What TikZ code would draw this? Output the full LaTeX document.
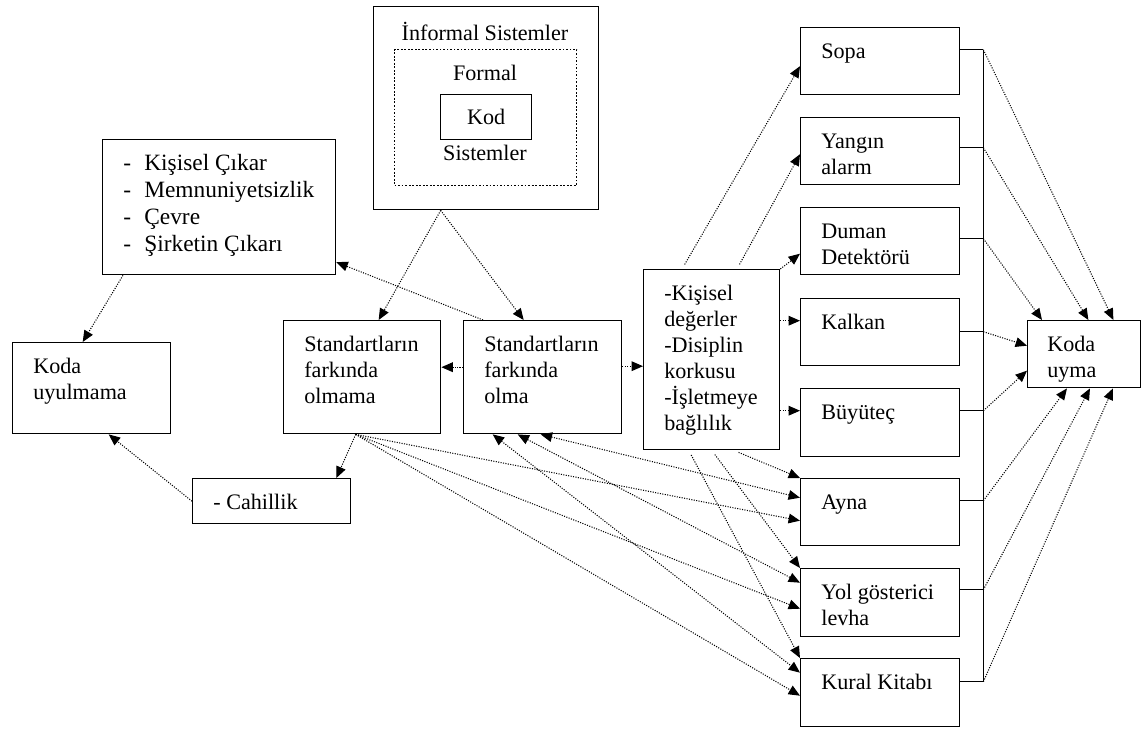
\documentclass[tikz,border=0pt]{standalone}
\usepackage{fontspec}
\setmainfont{Liberation Serif}
\usetikzlibrary{arrows.meta}
\begin{document}
\begin{tikzpicture}[x=0.02cm, y=-0.02cm,
  font=\fontsize{12.6}{14.8}\selectfont,
  kutu/.style 2 args={draw, line width=0.8pt, anchor=north west, inner sep=0pt,
    minimum width=#1cm, minimum height=#2cm},
  yazi/.style={anchor=north west, align=left, inner sep=0pt, xshift=0.42cm, yshift=-0.26cm},
  ok/.style={line width=0.6pt, dash pattern=on 0.6pt off 0.8pt,
    -{Triangle[length=6.5pt,width=5.5pt]}},
  iki/.style={ok, {Triangle[length=6.5pt,width=5.5pt]}-{Triangle[length=6.5pt,width=5.5pt]}},
  hat/.style={line width=0.8pt}]
\useasboundingbox (0,0) rectangle (1144,730);

% sistemler
\node[kutu={4.50}{4.06}] (bilgi) at (373,6) {};
\node (bilgi-t) at (485,31) {İnformal Sistemler};
\node[kutu={3.64}{2.72}, dash pattern=on 1pt off 1pt] (formal) at (394,49) {};
\node (formal-t) at (485,73) {Formal};
\node[kutu={1.82}{0.90}] (kod) at (440,94) {Kod};
\node (sistem-t) at (485,153) {Sistemler};

% sol taraf
\node[kutu={4.66}{2.70}, label={[yazi, font=\fontsize{13.3}{15.4}\selectfont, yshift=0.02cm]north west:\strut\makebox[0.42cm][l]{-}Kişisel Çıkar\\
  \makebox[0.42cm][l]{-}Memnuniyetsizlik\\\makebox[0.42cm][l]{-}Çevre\\
  \makebox[0.42cm][l]{-}Şirketin Çıkarı}] (nedenler) at (102,139) {};
\node[kutu={3.16}{1.82}, label={[yazi]north west:\strut Koda\\uyulmama}] (uyulmama) at (12,342) {};
\node[kutu={3.14}{2.26}, label={[yazi]north west:\strut Standartların\\farkında\\olmama}] (olmama) at (283,320) {};
\node[kutu={3.16}{2.26}, label={[yazi]north west:\strut Standartların\\farkında\\olma}] (olma) at (463,320) {};
\node[kutu={3.16}{0.90}, label={[yazi]north west:\strut - Cahillik}] (cahil) at (192,478) {};
\node[kutu={2.72}{3.60}, label={[yazi]north west:\strut -Kişisel\\değerler\\-Disiplin\\korkusu\\-İşletmeye\\bağlılık}] (etken) at (643,269) {};

% sag sutun
\node[kutu={3.18}{1.34}, label={[yazi]north west:\strut Sopa}] (sopa) at (800,27) {};
\node[kutu={3.18}{1.34}, label={[yazi]north west:\strut Yangın\\alarm}] (yangin) at (800,117) {};
\node[kutu={3.18}{1.34}, label={[yazi]north west:\strut Duman\\Detektörü}] (duman) at (800,207) {};
\node[kutu={3.18}{1.34}, label={[yazi]north west:\strut Kalkan}] (kalkan) at (800,298) {};
\node[kutu={3.18}{1.36}, label={[yazi]north west:\strut Büyüteç}] (buyutec) at (800,388) {};
\node[kutu={3.18}{1.34}, label={[yazi]north west:\strut Ayna}] (ayna) at (800,478) {};
\node[kutu={3.18}{1.36}, label={[yazi]north west:\strut Yol gösterici\\levha}] (yol) at (800,568) {};
\node[kutu={3.18}{1.36}, label={[yazi]north west:\strut Kural Kitabı}] (kural) at (800,658) {};
\node[kutu={2.26}{1.34}, label={[yazi, xshift=-0.02cm]north west:\strut Koda\\uyma}] (uyma) at (1027,320) {};

% baglanti cizgisi
\draw[hat] ([yshift=0.23cm]sopa.east) -- ++(23,0) coordinate (sopa-b);
\draw[hat] ([yshift=0.07cm]yangin.east) -- ++(23,0) coordinate (yangin-b);
\draw[hat] ([yshift=0.05cm]duman.east) -- ++(23,0) coordinate (duman-b);
\draw[hat] ([yshift=0.01cm]kalkan.east) -- ++(23,0) coordinate (kalkan-b);
\draw[hat] ([yshift=0.24cm]buyutec.east) -- ++(23,0) coordinate (buyutec-b);
\draw[hat] ([yshift=0.23cm]ayna.east) -- ++(23,0) coordinate (ayna-b);
\draw[hat] ([yshift=0.26cm]yol.east) -- ++(23,0) coordinate (yol-b);
\draw[hat] ([yshift=0.22cm]kural.east) -- ++(23,0) coordinate (kural-b);
\draw[hat] (sopa-b) -- (kural-b);

% oklar
\draw[ok] ([xshift=-0.91cm]bilgi.south) -- ([xshift=0.33cm]olmama.north);
\draw[ok] ([xshift=-0.91cm]bilgi.south) -- ([xshift=-0.38cm]olma.north);
\draw[ok] ([yshift=0.2cm]olma.west) -- ([yshift=0.2cm]olmama.east);
\draw[ok] ([yshift=0.22cm]olma.east) -- ([yshift=0.22cm]olma.east -| etken.west);
\draw[ok] ([xshift=0.4cm]olma.north west) -- ([yshift=-1.1cm]nedenler.east);
\draw[ok] ([xshift=0.42cm]nedenler.south west) -- ([xshift=-0.18cm]uyulmama.north);
\draw[ok] ([xshift=-0.13cm]olmama.south) -- ([xshift=-0.3cm]cahil.north east);
\draw[ok] (cahil.west) -- ([xshift=0.34cm]uyulmama.south);
\draw[ok] ([xshift=-0.13cm]olmama.south) -- ([yshift=-0.17cm]ayna.west);
\draw[ok] ([xshift=-0.13cm]olmama.south) -- ([yshift=-0.12cm]yol.west);
\draw[ok] ([xshift=-0.13cm]olmama.south) -- ([yshift=-0.06cm]kural.west);
\draw[iki] ([xshift=-0.04cm]olma.south) -- ([yshift=0.29cm]ayna.west);
\draw[iki] ([xshift=-0.5cm]olma.south) -- ([yshift=0.4cm]yol.west);
\draw[iki] ([xshift=-1.0cm]olma.south) -- ([yshift=0.4cm]kural.west);
\draw[ok, shorten <=3pt] ([xshift=0.78cm]etken.north west) -- ([yshift=-0.1cm]sopa.west);
\draw[ok, shorten <=3pt] ([xshift=1.88cm]etken.north west) -- ([yshift=-0.06cm]yangin.west);
\draw[ok] (etken.north east) -- ([yshift=-0.25cm]duman.west);
\draw[ok] ([yshift=0.23cm]kalkan.west -| etken.east) -- ([yshift=0.23cm]kalkan.west);
\draw[ok] ([yshift=0.24cm]buyutec.west -| etken.east) -- ([yshift=0.24cm]buyutec.west);
\draw[ok, shorten <=3pt] ([xshift=0.44cm]etken.south) -- (ayna.north west);
\draw[ok, shorten <=3pt] (etken.south) -- (yol.north west);
\draw[ok, shorten <=3pt] ([xshift=-0.46cm]etken.south) -- (kural.north west);
\draw[ok] (sopa-b) -- ([xshift=-0.56cm]uyma.north east);
\draw[ok] (yangin-b) -- ([xshift=-1.06cm]uyma.north east);
\draw[ok] (duman-b) -- ([xshift=0.3cm]uyma.north west);
\draw[ok] (kalkan-b) -- ([yshift=0.17cm]uyma.west);
\draw[ok] (buyutec-b) -- ([yshift=-0.33cm]uyma.west);
\draw[ok] (ayna-b) -- ([xshift=0.8cm]uyma.south west);
\draw[ok] (yol-b) -- ([xshift=1.26cm]uyma.south west);
\draw[ok] (kural-b) -- ([xshift=1.72cm]uyma.south west);
\end{tikzpicture}
\end{document}
